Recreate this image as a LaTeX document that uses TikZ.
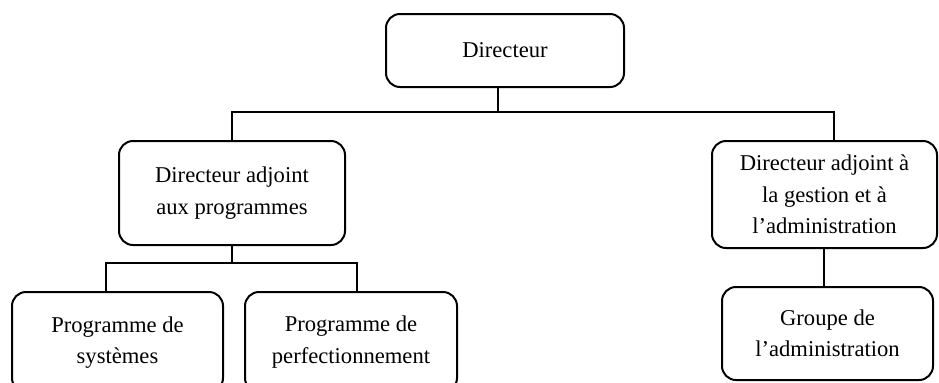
\documentclass[tikz,border=0pt]{standalone}
\usepackage{fontspec}
\setmainfont{Liberation Serif}
\begin{document}
\begin{tikzpicture}[x=0.5pt,y=-0.5pt,
  box/.style={draw, line width=1pt, rounded corners=7pt, align=center, inner sep=0pt,
    font=\fontsize{11.3}{15.7}\selectfont},
  conn/.style={line width=1pt}]
\useasboundingbox (0,0) rectangle (939,382);
\clip (-2,-2) rectangle (941,382);
% nodes
\node[box, minimum width=119pt, minimum height=36.5pt] (dir) at (505,50.5) {Directeur};
\node[box, minimum width=113pt, minimum height=52pt] (dap) at (232,193) {Directeur adjoint\\aux programmes};
\node[box, minimum width=112.5pt, minimum height=53.5pt] (dag) at (824.5,194.5) {Directeur adjoint à\\la gestion et à\\l’administration};
\node[box, minimum width=105.5pt, minimum height=50pt] (ps) at (117.5,342) {\raisebox{-3pt}{\begin{tabular}{@{}c@{}}Programme de\\[-0.2pt]systèmes\end{tabular}}};
\node[box, minimum width=106pt, minimum height=50pt] (pp) at (351,342) {Programme de\\perfectionnement};
\node[box, minimum width=105.5pt, minimum height=46.5pt] (ga) at (827.5,333.5) {Groupe de\\l’administration};
% junctions
\coordinate (j1) at (498,112);
\coordinate (jr) at (834,112);
\coordinate (bl) at (106,263);
\coordinate (br) at (357,263);
\coordinate (jg) at (824,0);
% connectors
\draw[conn] (dir.south -| j1) -- (j1);
\draw[conn] (dap.north) |- (jr) -- (jr |- dag.north);
\draw[conn] (dap.south) -- (dap.south |- bl);
\draw[conn] (bl |- ps.north) -- (bl) -- (br) -- (br |- pp.north);
\draw[conn] (dag.south -| jg) -- (ga.north -| jg);
\end{tikzpicture}
\end{document}
